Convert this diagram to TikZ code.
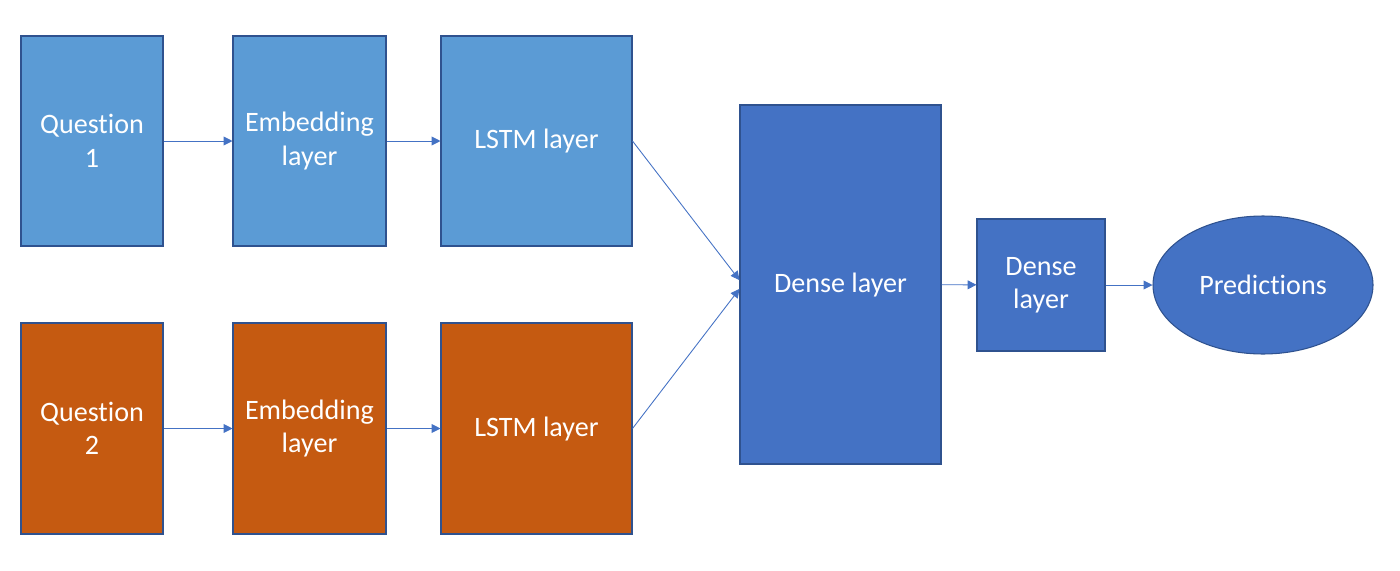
\documentclass[tikz,border=0pt]{standalone}
\usepackage{fontspec}
\setmainfont{Carlito}[Ligatures={NoCommon,NoRare,NoContextual}]
\usetikzlibrary{shapes.geometric,arrows.meta}
\definecolor{qblue}{HTML}{5B9BD5}
\definecolor{qorange}{HTML}{C55A11}
\definecolor{dblue}{HTML}{4472C4}
\definecolor{edgeblue}{HTML}{2F528F}
\tikzset{
  layerbox/.style={draw=edgeblue,line width=0.6pt,text=white,align=center,inner sep=0pt,
    font=\fontsize{16}{19}\selectfont},
  flow/.style={draw=dblue,line width=0.5pt,-{Triangle[length=5pt,width=5pt]}}
}
\begin{document}
\begin{tikzpicture}
  \useasboundingbox (0,0) rectangle (28,-11.4);

  \node[layerbox,fill=qblue,minimum width=2.84cm,minimum height=4.2cm] at (1.84,-2.82) (q1) {Question\\1};
  \node[layerbox,fill=qblue,minimum width=3.06cm,minimum height=4.2cm] at (6.19,-2.82) (emb1) {Embedding\\layer};
  \node[layerbox,fill=qblue,minimum width=3.82cm,minimum height=4.2cm] at (10.73,-2.82) (lstm1) {LSTM layer};

  \node[layerbox,fill=qorange,minimum width=2.84cm,minimum height=4.22cm] at (1.84,-8.57) (q2) {Question\\2};
  \node[layerbox,fill=qorange,minimum width=3.06cm,minimum height=4.22cm] at (6.19,-8.57) (emb2) {Embedding\\layer};
  \node[layerbox,fill=qorange,minimum width=3.82cm,minimum height=4.22cm] at (10.73,-8.57) (lstm2) {LSTM layer};

  \node[layerbox,fill=dblue,minimum width=4.02cm,minimum height=7.18cm] at (16.81,-5.69) (dense1) {Dense layer};
  \node[layerbox,fill=dblue,minimum width=2.56cm,minimum height=2.64cm] at (20.82,-5.7) (dense2) {Dense\\layer};
  \node[layerbox,ellipse,fill=dblue,minimum width=4.4cm,minimum height=2.76cm] at (25.26,-5.7) (pred) {Predictions};

  \draw[flow] (q1) -- (emb1);
  \draw[flow] (emb1) -- (lstm1);
  \draw[flow] (q2) -- (emb2);
  \draw[flow] (emb2) -- (lstm2);
  \draw[flow] (lstm1.east) -- ([yshift=2.5pt]dense1.west);
  \draw[flow] (lstm2.east) -- ([yshift=-2.5pt]dense1.west);
  \draw[flow] (dense1) -- (dense2);
  \draw[flow] (dense2) -- (pred);
\end{tikzpicture}
\end{document}
